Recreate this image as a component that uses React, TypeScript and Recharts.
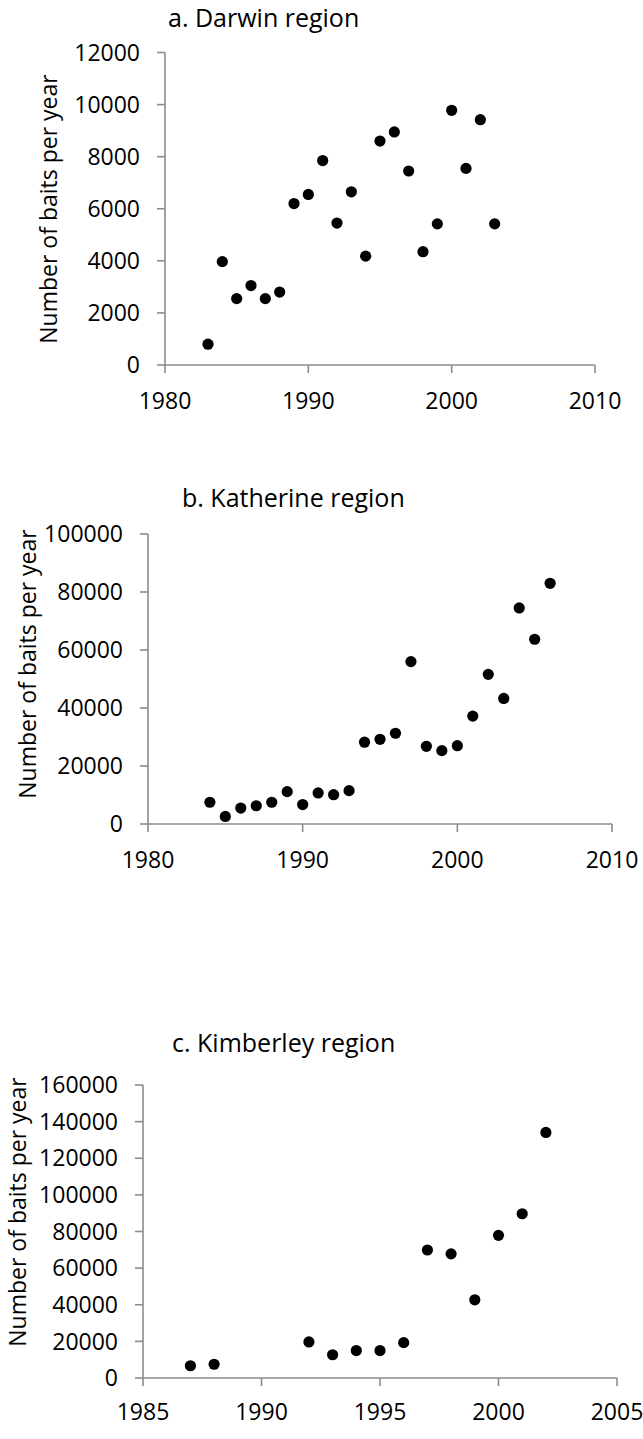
import React from "react";
import { ScatterChart, Scatter, XAxis, YAxis } from "recharts";

// a. Darwin region
const darwinYears = [1983, 1984, 1985, 1986, 1987, 1988, 1989, 1990, 1991, 1992, 1993, 1994, 1995, 1996, 1997, 1998, 1999, 2000, 2001, 2002, 2003];
const darwinBaits = [800, 3970, 2550, 3050, 2550, 2800, 6200, 6550, 7850, 5450, 6650, 4180, 8600, 8950, 7450, 4350, 5420, 9780, 7550, 9420, 5420];

// b. Katherine region
const katherineYears = [1984, 1985, 1986, 1987, 1988, 1989, 1990, 1991, 1992, 1993, 1994, 1995, 1996, 1997, 1998, 1999, 2000, 2001, 2002, 2003, 2004, 2005, 2006];
const katherineBaits = [7500, 2600, 5500, 6300, 7500, 11150, 6700, 10700, 10100, 11500, 28200, 29200, 31300, 56000, 26800, 25300, 27000, 37200, 51600, 43300, 74500, 63700, 83000];

// c. Kimberley region
const kimberleyYears = [1987, 1988, 1992, 1993, 1994, 1995, 1996, 1997, 1998, 1999, 2000, 2001, 2002];
const kimberleyBaits = [6700, 7500, 19700, 12700, 15000, 15000, 19300, 69900, 67800, 42700, 77900, 89700, 134100];

const ticksA = [0, 2000, 4000, 6000, 8000, 10000, 12000];
const ticksB = [0, 20000, 40000, 60000, 80000, 100000];
const ticksC = [0, 20000, 40000, 60000, 80000, 100000, 120000, 140000, 160000];
const yearTicksAB = [1980, 1990, 2000, 2010];
const yearTicksC = [1985, 1990, 1995, 2000, 2005];

const toRows = (years: number[], baits: number[]) =>
  years.map((year, i) => ({ year, baits: baits[i] }));

const FONT = "'Open Sans', 'Noto Sans', sans-serif";
const AXIS = "#8c8c8c";
const tickStyle = { fill: "#000", fontSize: 23, fontFamily: FONT };
const lineStyle = { stroke: AXIS, strokeWidth: 1.6 };

const dot = (props: any) => <circle cx={props.cx} cy={props.cy} r={5.6} fill="#000" />;

interface PanelProps {
  top: number;
  height: number;
  margin: { top: number; right: number; bottom: number; left: number };
  yWidth: number;
  xDomain: [number, number];
  xTicks: number[];
  yDomain: [number, number];
  yTicks: number[];
  xMargin: number;
  data: { year: number; baits: number }[];
}

function Panel(p: PanelProps) {
  return (
    <div style={{ position: "absolute", left: 0, top: p.top }}>
      <ScatterChart width={643} height={p.height} margin={p.margin}>
        <XAxis
          type="number"
          dataKey="year"
          domain={p.xDomain}
          ticks={p.xTicks}
          interval={0}
          height={50}
          tickSize={8}
          tickMargin={p.xMargin}
          axisLine={lineStyle}
          tickLine={lineStyle}
          tick={tickStyle}
        />
        <YAxis
          type="number"
          dataKey="baits"
          domain={p.yDomain}
          ticks={p.yTicks}
          interval={0}
          width={p.yWidth}
          tickSize={8}
          tickMargin={17}
          axisLine={lineStyle}
          tickLine={lineStyle}
          tick={tickStyle}
        />
        <Scatter data={p.data} fill="#000" shape={dot} isAnimationActive={false} />
      </ScatterChart>
    </div>
  );
}

const titles = [
  { text: "a. Darwin region", x: 168, y: 27 },
  { text: "b. Katherine region", x: 182, y: 507 },
  { text: "c. Kimberley region", x: 172, y: 1052 },
];

const yLabels = [
  { x: 57, y: 209 },
  { x: 36, y: 664 },
  { x: 26, y: 1212 },
];

export default function App() {
  return (
    <div style={{ position: "absolute", left: 0, top: 0, width: 643, height: 1439, background: "#fff" }}>
      <Panel
        top={0}
        height={440}
        margin={{ top: 52.5, right: 48, bottom: 25, left: 0 }}
        yWidth={165}
        xDomain={[1980, 2010]}
        xTicks={yearTicksAB}
        yDomain={[0, 12000]}
        yTicks={ticksA}
        xMargin={20}
        data={toRows(darwinYears, darwinBaits)}
      />
      <Panel
        top={460}
        height={440}
        margin={{ top: 74, right: 31, bottom: 26, left: 0 }}
        yWidth={148}
        xDomain={[1980, 2010]}
        xTicks={yearTicksAB}
        yDomain={[0, 100000]}
        yTicks={ticksB}
        xMargin={20}
        data={toRows(katherineYears, katherineBaits)}
      />
      <Panel
        top={960}
        height={479}
        margin={{ top: 125, right: 26, bottom: 11, left: 0 }}
        yWidth={143}
        xDomain={[1985, 2005]}
        xTicks={yearTicksC}
        yDomain={[0, 160000]}
        yTicks={ticksC}
        xMargin={18}
        data={toRows(kimberleyYears, kimberleyBaits)}
      />
      <svg
        width={643}
        height={1439}
        style={{ position: "absolute", left: 0, top: 0, pointerEvents: "none" }}
      >
        {titles.map((t) => (
          <text key={t.text} x={t.x} y={t.y} fontSize={25} fontFamily={FONT} fill="#000">
            {t.text}
          </text>
        ))}
        {yLabels.map((l, i) => (
          <text
            key={i}
            x={l.x}
            y={l.y}
            transform={`rotate(-90 ${l.x} ${l.y})`}
            textAnchor="middle"
            fontSize={23}
            fontFamily={FONT}
            fill="#000"
          >
            Number of baits per year
          </text>
        ))}
      </svg>
    </div>
  );
}
